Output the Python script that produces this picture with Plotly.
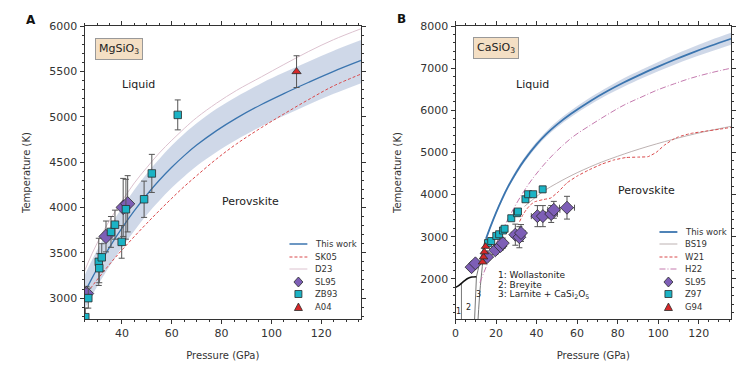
import plotly.graph_objects as go

# ---------------- Panel A : MgSiO3 ----------------
A_P = [25, 28, 32, 36, 40, 45, 50, 55, 60, 65, 70, 78, 86, 96, 105, 115, 125, 136]
A_work_T = [3060, 3220, 3420, 3604, 3772, 3964, 4140, 4299, 4442, 4571, 4687, 4847, 4985, 5135, 5255, 5380, 5500, 5620]
A_band_hi = [3250, 3420, 3630, 3824, 3997, 4194, 4375, 4534, 4682, 4811, 4927, 5087, 5220, 5370, 5487, 5610, 5728, 5845]
A_band_lo = [2880, 3030, 3220, 3394, 3557, 3744, 3920, 4074, 4217, 4341, 4457, 4612, 4745, 4895, 5010, 5135, 5252, 5370]
A_SK05_T = [3020, 3130, 3270, 3405, 3530, 3680, 3825, 3965, 4100, 4230, 4350, 4535, 4700, 4880, 5030, 5190, 5340, 5470]
A_D23_T = [3300, 3490, 3710, 3900, 4070, 4270, 4440, 4600, 4740, 4870, 4990, 5150, 5290, 5440, 5575, 5720, 5850, 5970]

A_SL95_P = [25.8, 33.6, 40.5, 42.3]
A_SL95_T = [3050, 3680, 4000, 4040]
A_SL95_err = [80, 170, 320, 310]

A_ZB93_P = [25.3, 26.5, 30.7, 30.9, 31.9, 35.6, 37.2, 39.9, 41.6, 48.9, 52.0, 62.4]
A_ZB93_T = [2790, 3000, 3400, 3330, 3450, 3730, 3810, 3620, 3980, 4090, 4375, 5020]
A_ZB93_err = [100, 110, 260, 160, 150, 170, 160, 180, 330, 200, 210, 165]

A_A04_P = [110.1]
A_A04_T = [5497]
A_A04_err = [175]

# ---------------- Panel B : CaSiO3 ----------------
B_P = [15, 17, 20, 23, 26, 30, 34, 40, 45, 50, 57, 67, 75, 83, 92, 100, 108, 116, 126, 136]
B_work_T = [2950, 3212, 3575, 3902, 4194, 4533, 4824, 5192, 5447, 5662, 5918, 6235, 6458, 6660, 6866, 7036, 7199, 7352, 7531, 7697]
B_band_hi = [2990, 3252, 3620, 3952, 4244, 4588, 4879, 5252, 5512, 5732, 5993, 6320, 6548, 6760, 6971, 7146, 7319, 7477, 7666, 7837]
B_band_lo = [2910, 3172, 3530, 3852, 4144, 4478, 4769, 5132, 5382, 5592, 5843, 6150, 6368, 6560, 6761, 6926, 7079, 7227, 7396, 7557]

B_BS19_P = [34, 38, 44, 50, 55, 60, 66, 72, 80, 87, 95, 103, 110, 118, 126, 136]
B_BS19_T = [3720, 3880, 4100, 4270, 4400, 4520, 4650, 4770, 4910, 5025, 5145, 5255, 5345, 5440, 5525, 5620]

B_W21_P = [31.6, 33, 35, 37, 39, 43, 47, 51, 55, 60, 66, 72, 78, 84, 90, 95, 99, 103, 107, 110, 116, 124, 130, 136]
B_W21_T = [3360, 3500, 3650, 3760, 3830, 3880, 3920, 4080, 4280, 4440, 4590, 4720, 4820, 4880, 4890, 4900, 5000, 5170, 5300, 5370, 5450, 5510, 5550, 5595]

B_H22_P = [12, 14, 16, 19, 22.6, 26, 30.8, 36, 41.4, 46, 50.5, 58, 66.8, 75, 83.2, 92, 99.6, 108, 116, 126, 136]
B_H22_T = [1910, 2155, 2390, 2730, 3105, 3430, 3850, 4245, 4585, 4840, 5060, 5375, 5655, 5900, 6126, 6320, 6482, 6630, 6760, 6890, 7000]

B_melt_P = [0, 1.5, 2.9, 4.5, 6.2, 8.0, 10.3]
B_melt_T = [1800, 1840, 1897, 1960, 2015, 2045, 2053]
B_melt2_P = [10.3, 11.5, 13.0, 14.4, 15.0]
B_melt2_T = [2053, 2300, 2600, 2884, 2950]
B_bnd1_P = [2.9, 2.9]
B_bnd1_T = [1050, 1890]
B_bnd2_P = [9.4, 10.3]
B_bnd2_T = [1050, 2053]
B_bnd3_P = [11.1, 12.0, 13.2, 14.4]
B_bnd3_T = [1050, 1700, 2300, 2880]

B_SL95_P = [7.9, 9.8, 15.6, 19.6, 22.2, 23.3, 29.5, 31.5, 32.3, 40.4, 43.1, 47.2, 48.5, 55.0]
B_SL95_T = [2280, 2370, 2520, 2680, 2780, 2850, 3050, 2990, 3090, 3490, 3490, 3540, 3640, 3690]
B_SL95_ex = [0.8, 0.8, 1.0, 1.2, 1.5, 1.5, 2.0, 2.0, 2.0, 3.0, 3.0, 3.0, 3.0, 3.7]
B_SL95_ey = [60, 60, 80, 100, 100, 120, 250, 250, 200, 250, 250, 200, 200, 270]

B_Z97_P = [16.0, 17.6, 20.1, 21.5, 23.4, 24.2, 27.5, 30.3, 30.8, 34.5, 35.8, 38.3, 43.0]
B_Z97_T = [2850, 2900, 3020, 3060, 3150, 3190, 3440, 3560, 3600, 3890, 4010, 4010, 4125]
B_Z97_err = [50, 50, 50, 50, 50, 50, 60, 60, 60, 60, 60, 60, 70]

B_G94_P = [13.3, 13.8, 14.2, 14.8]
B_G94_T = [2400, 2520, 2640, 2770]

# ---------------- styles ----------------
BLUE = '#3b75af'
BAND = 'rgba(168,184,214,0.55)'
RED = '#d9484a'
PINK = '#dcc2cf'
GREY = '#bdb2b2'
DASHDOT = '#c47aae'
PURPLE = '#7d5eb6'
CYAN = '#1bb3c5'
TRI = '#d62728'
EDGE = '#2b2b2b'
ERR = '#555555'
FONT = 'DejaVu Sans'

fig = go.Figure()

def err(arr):
    return dict(type='data', array=arr, color=ERR, thickness=1, width=3)

def sp(sm=1.0):
    return dict(shape='spline', smoothing=sm)

# Panel A traces
fig.add_trace(go.Scatter(x=A_P, y=A_band_lo, mode='lines', line=dict(width=0, **sp()),
                         xaxis='x', yaxis='y', showlegend=False, hoverinfo='skip'))
fig.add_trace(go.Scatter(x=A_P, y=A_band_hi, mode='lines', line=dict(width=0, **sp()),
                         fill='tonexty', fillcolor=BAND, xaxis='x', yaxis='y', showlegend=False, hoverinfo='skip'))
fig.add_trace(go.Scatter(x=A_P, y=A_D23_T, mode='lines', line=dict(color=PINK, width=1, **sp()),
                         xaxis='x', yaxis='y', name='D23', showlegend=False))
fig.add_trace(go.Scatter(x=A_P, y=A_SK05_T, mode='lines', line=dict(color=RED, width=1, dash='3px,2px', **sp()),
                         xaxis='x', yaxis='y', name='SK05', showlegend=False))
fig.add_trace(go.Scatter(x=A_P, y=A_work_T, mode='lines', line=dict(color=BLUE, width=1.3, **sp()),
                         xaxis='x', yaxis='y', name='This work', showlegend=False))
fig.add_trace(go.Scatter(x=A_SL95_P, y=A_SL95_T, mode='markers', error_y=err(A_SL95_err),
                         marker=dict(symbol='diamond', size=11, color=PURPLE, line=dict(color=EDGE, width=0.8)),
                         xaxis='x', yaxis='y', name='SL95', showlegend=False))
fig.add_trace(go.Scatter(x=A_ZB93_P, y=A_ZB93_T, mode='markers', error_y=err(A_ZB93_err),
                         marker=dict(symbol='square', size=7.5, color=CYAN, line=dict(color=EDGE, width=0.8)),
                         xaxis='x', yaxis='y', name='ZB93', showlegend=False))
fig.add_trace(go.Scatter(x=A_A04_P, y=A_A04_T, mode='markers', error_y=err(A_A04_err),
                         marker=dict(symbol='triangle-up', size=8, color=TRI, line=dict(color=EDGE, width=0.8)),
                         xaxis='x', yaxis='y', name='A04', showlegend=False))

# Panel B traces
fig.add_trace(go.Scatter(x=B_P, y=B_band_lo, mode='lines', line=dict(width=0, **sp()),
                         xaxis='x2', yaxis='y2', showlegend=False, hoverinfo='skip'))
fig.add_trace(go.Scatter(x=B_P, y=B_band_hi, mode='lines', line=dict(width=0, **sp()),
                         fill='tonexty', fillcolor=BAND, xaxis='x2', yaxis='y2', showlegend=False, hoverinfo='skip'))
for px_, ty_, w_, c_ in [(B_bnd1_P, B_bnd1_T, 1, '#777'), (B_bnd2_P, B_bnd2_T, 1, '#777'),
                         (B_bnd3_P, B_bnd3_T, 1, '#777'), (B_melt2_P, B_melt2_T, 1, '#777'),
                         (B_melt_P, B_melt_T, 1.6, '#111')]:
    fig.add_trace(go.Scatter(x=px_, y=ty_, mode='lines', line=dict(color=c_, width=w_, **sp(0.8)),
                             xaxis='x2', yaxis='y2', showlegend=False, hoverinfo='skip'))
fig.add_trace(go.Scatter(x=B_BS19_P, y=B_BS19_T, mode='lines', line=dict(color=GREY, width=1, **sp()),
                         xaxis='x2', yaxis='y2', name='BS19', showlegend=False))
fig.add_trace(go.Scatter(x=B_W21_P, y=B_W21_T, mode='lines', line=dict(color=RED, width=1, dash='3px,2px', **sp(0.3)),
                         xaxis='x2', yaxis='y2', name='W21', showlegend=False))
fig.add_trace(go.Scatter(x=B_H22_P, y=B_H22_T, mode='lines', line=dict(color=DASHDOT, width=1, dash='6px,2px,1px,2px', **sp()),
                         xaxis='x2', yaxis='y2', name='H22', showlegend=False))
fig.add_trace(go.Scatter(x=B_P, y=B_work_T, mode='lines', line=dict(color=BLUE, width=1.8, **sp()),
                         xaxis='x2', yaxis='y2', name='This work', showlegend=False))
fig.add_trace(go.Scatter(x=B_SL95_P, y=B_SL95_T, mode='markers', error_y=err(B_SL95_ey), error_x=err(B_SL95_ex),
                         marker=dict(symbol='diamond', size=10, color=PURPLE, line=dict(color=EDGE, width=0.8)),
                         xaxis='x2', yaxis='y2', name='SL95', showlegend=False))
fig.add_trace(go.Scatter(x=B_Z97_P, y=B_Z97_T, mode='markers', error_y=err(B_Z97_err),
                         marker=dict(symbol='square', size=7, color=CYAN, line=dict(color=EDGE, width=0.8)),
                         xaxis='x2', yaxis='y2', name='Z97', showlegend=False))
fig.add_trace(go.Scatter(x=B_G94_P, y=B_G94_T, mode='markers',
                         marker=dict(symbol='triangle-up', size=7.5, color=TRI, line=dict(color=EDGE, width=0.8)),
                         xaxis='x2', yaxis='y2', name='G94', showlegend=False))

axis_common = dict(showline=True, linecolor='#333', linewidth=1, mirror='allticks', ticks='outside',
                   ticklen=4, tickwidth=1, tickcolor='#333', showgrid=False, zeroline=False,
                   tickfont=dict(family=FONT, size=11, color='#333'))
TITLE_FONT = dict(family=FONT, size=10, color='#333')

W, H = 747, 372
mt, mb = 26, 53
ph = H - mt - mb

def px_x(p):
    return p / W

def px_y(p):
    return (H - mb - p) / ph

fig.update_layout(
    width=W, height=H, margin=dict(l=0, r=0, t=mt, b=mb),
    paper_bgcolor='white', plot_bgcolor='white', showlegend=False,
    font=dict(family=FONT, color='#222'),
    xaxis=dict(domain=[81 / W, 359 / W], range=[25, 136], anchor='y', dtick=20, tick0=0,
               title=dict(text='Pressure (GPa)', font=TITLE_FONT, standoff=12),
               minor=dict(dtick=5, ticks='outside', ticklen=2, tickcolor='#333'), **axis_common),
    yaxis=dict(domain=[0, 1], range=[2770, 6000], anchor='x', dtick=500, tick0=0,
               title=dict(text='Temperature (K)', font=TITLE_FONT, standoff=16),
               minor=dict(dtick=100, ticks='outside', ticklen=2, tickcolor='#333'), **axis_common),
    xaxis2=dict(domain=[454 / W, 731 / W], range=[0, 136], anchor='y2', dtick=20, tick0=0,
                title=dict(text='Pressure (GPa)', font=TITLE_FONT, standoff=12),
                minor=dict(dtick=5, ticks='outside', ticklen=2, tickcolor='#333'), **axis_common),
    yaxis2=dict(domain=[0, 1], range=[1050, 8000], anchor='x2', dtick=1000, tick0=0,
                title=dict(text='Temperature (K)', font=TITLE_FONT, standoff=16),
                minor=dict(dtick=200, ticks='outside', ticklen=2, tickcolor='#333'), **axis_common),
)

ann = []

def pann(text, x, y, size, color='#333', **kw):
    d = dict(text=text, x=x, y=y, xref='paper', yref='paper', showarrow=False,
             xanchor='center', yanchor='middle', font=dict(size=size, color=color))
    d.update(kw)
    ann.append(d)

# panel letters
pann('<b>A</b>', px_x(27), px_y(20), 12, '#111')
pann('<b>B</b>', px_x(400), px_y(19), 12, '#111')
# compound boxes
pann('MgSiO<sub>3</sub>', px_x(116), px_y(49.5), 11, '#222', bgcolor='#f4dfc4', bordercolor='#999',
     borderwidth=1, borderpad=3)
pann('CaSiO<sub>3</sub>', px_x(494.5), px_y(48), 11, '#222', bgcolor='#f4dfc4', bordercolor='#999',
     borderwidth=1, borderpad=3)

def dann(text, x, y, xr, yr, size, **kw):
    d = dict(text=text, x=x, y=y, xref=xr, yref=yr, showarrow=False, xanchor='center', yanchor='middle',
             font=dict(size=size, color='#222'))
    d.update(kw)
    ann.append(d)

# region labels
dann('Liquid', 46.8, 5360, 'x', 'y', 11)
dann('Perovskite', 91.6, 4060, 'x', 'y', 11)
dann('Liquid', 37.8, 6624, 'x2', 'y2', 11)
dann('Perovskite', 94.3, 4110, 'x2', 'y2', 11)
# phase labels
for t, xx, yy in [('1', 1.6, 1220), ('2', 6.2, 1320), ('3', 11.2, 1640)]:
    dann(t, xx, yy, 'x2', 'y2', 8)
for t, yy in [('1: Wollastonite', 2094), ('2: Breyite', 1868), ('3: Larnite + CaSi<sub>2</sub>O<sub>5</sub>', 1643)]:
    dann(t, 20.1, yy, 'x2', 'y2', 9, xanchor='left')

shapes = []

def leg_line(x0, x1, y, color, width, dash='solid'):
    shapes.append(dict(type='line', xref='paper', yref='paper', x0=px_x(x0), x1=px_x(x1), y0=px_y(y), y1=px_y(y),
                       line=dict(color=color, width=width, dash=dash)))

def leg_marker(cx, y, path, color):
    shapes.append(dict(type='path', xref='paper', yref='paper', xsizemode='pixel', ysizemode='pixel',
                       xanchor=px_x(cx), yanchor=px_y(y), path=path, fillcolor=color,
                       line=dict(color=EDGE, width=0.8), layer='above'))

DIAM = 'M 0 5 L 4.5 0 L 0 -5 L -4.5 0 Z'
SQ = 'M -3.5 -3.5 L 3.5 -3.5 L 3.5 3.5 L -3.5 3.5 Z'
TRIP = 'M -4 -3.5 L 4 -3.5 L 0 4 Z'

def leg_text(x, y, text):
    pann(text, px_x(x), px_y(y), 8.5, xanchor='left')

# Legend A
rowsA = [244, 257, 269, 282, 294, 307]
leg_line(287, 305, rowsA[0], BLUE, 1.5); leg_text(311, rowsA[0], 'This work')
leg_line(287, 305, rowsA[1], RED, 1, '3px,2px'); leg_text(311, rowsA[1], 'SK05')
leg_line(287, 305, rowsA[2], PINK, 1); leg_text(311, rowsA[2], 'D23')
leg_marker(296, rowsA[3], DIAM, PURPLE); leg_text(311, rowsA[3], 'SL95')
leg_marker(296, rowsA[4], SQ, CYAN); leg_text(311, rowsA[4], 'ZB93')
leg_marker(296, rowsA[5], TRIP, TRI); leg_text(311, rowsA[5], 'A04')

# Legend B
rowsB = [232, 244, 257, 269, 282, 294, 307]
leg_line(659, 677, rowsB[0], BLUE, 1.8); leg_text(683, rowsB[0], 'This work')
leg_line(659, 677, rowsB[1], GREY, 1); leg_text(683, rowsB[1], 'BS19')
leg_line(659, 677, rowsB[2], RED, 1, '3px,2px'); leg_text(683, rowsB[2], 'W21')
leg_line(659, 677, rowsB[3], DASHDOT, 1, '6px,2px,1px,2px'); leg_text(683, rowsB[3], 'H22')
leg_marker(668, rowsB[4], DIAM, PURPLE); leg_text(683, rowsB[4], 'SL95')
leg_marker(668, rowsB[5], SQ, CYAN); leg_text(683, rowsB[5], 'Z97')
leg_marker(668, rowsB[6], TRIP, TRI); leg_text(683, rowsB[6], 'G94')

fig.update_layout(annotations=ann, shapes=shapes)

fig.write_html("out.html", config={'displayModeBar': False},
               post_script="document.body.style.margin='0';document.body.style.overflow='hidden';")
